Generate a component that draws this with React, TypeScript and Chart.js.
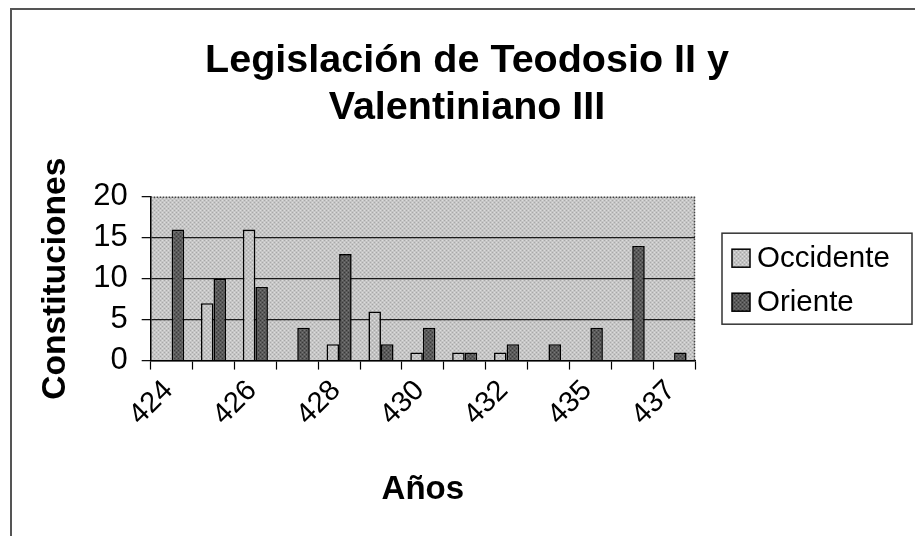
import React, { useEffect, useRef } from 'react';
import { Chart, registerables } from 'chart.js';

Chart.register(...registerables);

const years = ['424', '425', '426', '427', '428', '429', '430', '431', '432', '433', '435', '436', '437'];
const occidente = [0, 7, 16, 0, 2, 6, 1, 1, 1, 0, 0, 0, 0];
const oriente = [16, 10, 9, 4, 13, 2, 4, 1, 2, 2, 4, 14, 1];
const seriesNames = ['Occidente', 'Oriente'];
const titleLines = ['Legislación de Teodosio II y', 'Valentiniano III'];
const yAxisTitle = 'Constituciones';
const xAxisTitle = 'Años';
const yMin = 0;
const yMax = 20;
const yStep = 5;

const FONT = "'Liberation Sans', Arial, Helvetica, sans-serif";

function makePattern(base: string, dot: string, dot2: string) {
  const c = document.createElement('canvas');
  c.width = 4;
  c.height = 4;
  const g = c.getContext('2d') as CanvasRenderingContext2D;
  g.fillStyle = base;
  g.fillRect(0, 0, 4, 4);
  g.fillStyle = dot;
  g.fillRect(0, 0, 1, 1);
  g.fillRect(2, 2, 1, 1);
  g.fillStyle = dot2;
  g.fillRect(2, 0, 1, 1);
  g.fillRect(0, 2, 1, 1);
  const ctx = document.createElement('canvas').getContext('2d') as CanvasRenderingContext2D;
  return ctx.createPattern(c, 'repeat') as CanvasPattern;
}

export default function App() {
  const ref = useRef<HTMLCanvasElement | null>(null);

  useEffect(() => {
    if (!ref.current) return;
    const bgPat = makePattern('#c6c6c6', '#a8a8a8', '#dcdcdc');
    const occPat = makePattern('#c2c2c2', '#a6a6a6', '#dedede');
    const oriPat = makePattern('#5a5a5a', '#383838', '#787878');

    const decor = {
      id: 'decor',
      beforeDraw(chart: any) {
        const { ctx, chartArea: a } = chart;
        ctx.save();
        ctx.fillStyle = '#ffffff';
        ctx.fillRect(0, 0, chart.width, chart.height);
        ctx.strokeStyle = '#555';
        ctx.lineWidth = 2;
        ctx.strokeRect(11, 9, chart.width + 10, chart.height + 10);
        ctx.fillStyle = bgPat;
        ctx.fillRect(a.left, a.top, a.right - a.left, a.bottom - a.top);
        ctx.restore();
      },
      beforeDatasetsDraw(chart: any) {
        const { ctx, chartArea: a } = chart;
        ctx.save();
        ctx.strokeStyle = '#444';
        ctx.lineWidth = 1.5;
        ctx.setLineDash([1.5, 1.5]);
        ctx.beginPath();
        ctx.moveTo(a.left, a.top + 0.5);
        ctx.lineTo(a.right, a.top + 0.5);
        ctx.moveTo(a.right - 0.5, a.top);
        ctx.lineTo(a.right - 0.5, a.bottom);
        ctx.stroke();
        ctx.restore();
      },
      afterDraw(chart: any) {
        const { ctx, chartArea: a } = chart;
        const ds = chart.data.datasets;
        const fontSize = 29.5;
        const rowH = 44;
        const boxL = a.right + 27;
        const boxW = 190;
        const boxH = 91;
        const midY = (a.top + a.bottom) / 2;
        const boxT = midY - boxH / 2;
        ctx.save();
        ctx.strokeStyle = '#333';
        ctx.lineWidth = 1.5;
        ctx.strokeRect(boxL, boxT, boxW, boxH);
        ctx.font = `${fontSize}px ${FONT}`;
        ctx.textBaseline = 'middle';
        ds.forEach((d: any, i: number) => {
          const cy = boxT + 25 + i * rowH;
          ctx.fillStyle = d.backgroundColor;
          ctx.fillRect(boxL + 10, cy - 9, 18, 18);
          ctx.strokeStyle = '#000';
          ctx.lineWidth = 1.5;
          ctx.strokeRect(boxL + 10, cy - 9, 18, 18);
          ctx.fillStyle = '#000';
          ctx.fillText(d.label, boxL + 35, cy + 1);
        });
        ctx.restore();
      },
    };

    const chart = new Chart(ref.current, {
      type: 'bar',
      data: {
        labels: years,
        datasets: [
          {
            label: seriesNames[0],
            data: occidente,
            backgroundColor: occPat as any,
            borderColor: '#000',
            borderWidth: 1.6,
            categoryPercentage: 0.6,
            barPercentage: 1.0,
          },
          {
            label: seriesNames[1],
            data: oriente,
            backgroundColor: oriPat as any,
            borderColor: '#000',
            borderWidth: 1.6,
            categoryPercentage: 0.6,
            barPercentage: 1.0,
          },
        ],
      },
      options: {
        responsive: false,
        animation: false,
        devicePixelRatio: 1,
        layout: { padding: { left: 19, right: 0, top: 0, bottom: 0 } },
        plugins: {
          legend: { display: false },
          tooltip: { enabled: false },
          title: {
            display: true,
            text: titleLines,
            color: '#000',
            font: { family: FONT, size: 39.5, weight: 'bold', lineHeight: 1.2 },
            padding: { top: 37, bottom: 65 },
          },
        },
        scales: {
          x: {
            offset: true,
            grid: {
              offset: true,
              drawOnChartArea: false,
              tickLength: 9,
              tickColor: '#000',
              tickWidth: 1.2,
              color: '#000',
            },
            border: { color: '#000', width: 1.5 },
            ticks: {
              autoSkip: false,
              minRotation: 45,
              maxRotation: 45,
              padding: 4,
              labelOffset: -3,
              color: '#000',
              font: { family: FONT, size: 29 },
              callback: (_v: any, i: number) => (i % 2 === 0 ? years[i] : ''),
            },
            title: {
              display: true,
              text: xAxisTitle,
              color: '#000',
              font: { family: FONT, size: 33, weight: 'bold' },
              padding: { top: 34, bottom: 26 },
            },
          },
          y: {
            min: yMin,
            max: yMax,
            grid: {
              color: (c: any) => (c.tick && c.tick.value === yMax ? 'rgba(0,0,0,0)' : '#1a1a1a'),
              lineWidth: 1.3,
              tickLength: 9,
              tickColor: '#000',
              tickWidth: 1.2,
            },
            border: { color: '#000', width: 1.5 },
            ticks: {
              stepSize: yStep,
              padding: 14,
              color: '#000',
              font: { family: FONT, size: 31 },
            },
            title: {
              display: true,
              text: yAxisTitle,
              color: '#000',
              font: { family: FONT, size: 33.5, weight: 'bold' },
              padding: { top: 17, bottom: 3 },
            },
          },
          yR: {
            position: 'right',
            display: true,
            grid: { display: false },
            ticks: { display: false },
            border: { display: false },
            afterFit: (s: any) => {
              s.width = 220;
            },
          },
        },
      },
      plugins: [decor],
    });
    return () => chart.destroy();
  }, []);

  return (
    <div style={{ position: 'absolute', left: 0, top: 0, width: 915, height: 536 }}>
      <canvas ref={ref} width={915} height={536} />
    </div>
  );
}
